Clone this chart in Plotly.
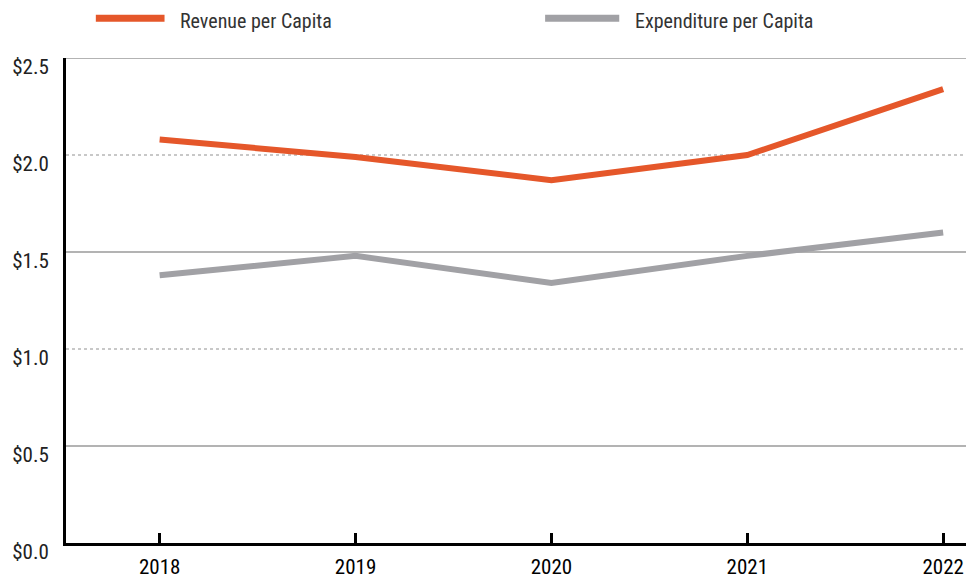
import plotly.graph_objects as go

years = ["2018", "2019", "2020", "2021", "2022"]
revenue_per_capita = [2.08, 1.99, 1.87, 2.00, 2.34]
expenditure_per_capita = [1.38, 1.48, 1.34, 1.48, 1.60]
y_ticks = [0, 0.5, 1.0, 1.5, 2.0, 2.5]
y_tick_labels = ["$0.0", "$0.5", "$1.0", "$1.5", "$2.0", "$2.5"]
solid_grid = [0.5, 1.5, 2.5]
dotted_grid = [1.0, 2.0]

ORANGE = "#E5572A"
GRAY = "#A1A1A5"
FONT = "Roboto Condensed, Liberation Sans Narrow, DejaVu Sans Condensed, sans-serif"

fig = go.Figure()
fig.add_trace(go.Scatter(x=years, y=revenue_per_capita, mode="lines",
                         name="Revenue per Capita",
                         line=dict(color=ORANGE, width=6)))
fig.add_trace(go.Scatter(x=years, y=expenditure_per_capita, mode="lines",
                         name="Expenditure per Capita",
                         line=dict(color=GRAY, width=6)))

# gridlines: solid at the half steps, dotted at whole dollars
for v in solid_grid:
    fig.add_hline(y=v, line=dict(color="#9a9a9a", width=1.5), layer="below")
for v in dotted_grid:
    fig.add_hline(y=v, line=dict(color="#c8c8c8", width=2, dash="dot"), layer="below")

# hand-drawn legend so the line samples are long like the original
legend_items = [(fig.data[0].name, ORANGE, 0.033, 0.109, 0.1255),
                (fig.data[1].name, GRAY, 0.530, 0.612, 0.628)]
for name, color, x0, x1, tx in legend_items:
    fig.add_shape(type="line", xref="paper", yref="paper",
                  x0=x0, x1=x1, y0=1.082, y1=1.082,
                  line=dict(color=color, width=7))
    fig.add_annotation(text=name, xref="paper", yref="paper", x=tx, y=1.077,
                       xanchor="left", yanchor="middle", showarrow=False,
                       borderpad=0,
                       font=dict(size=20, color="#333333", family=FONT))

# page body has an 8px margin, so the figure is sized/offset for it
fig.update_layout(
    width=966, height=575,
    margin=dict(l=55, r=4, t=50, b=28),
    paper_bgcolor="white", plot_bgcolor="white",
    showlegend=False,
    font=dict(family=FONT, size=21, color="#222222"),
)
fig.update_xaxes(range=[-0.478, 4.137], showgrid=False,
                 showline=True, linecolor="black", linewidth=3,
                 ticks="inside", ticklen=10, tickwidth=3, tickcolor="black",
                 ticklabelstandoff=3, tickfont=dict(color="black"))
fig.update_yaxes(range=[0, 2.5], tickvals=y_ticks, ticktext=y_tick_labels,
                 showgrid=False, zeroline=False,
                 showline=True, linecolor="black", linewidth=3,
                 ticks="", ticklabelshift=9, ticklabelstandoff=10)

fig.write_html("out.html")
